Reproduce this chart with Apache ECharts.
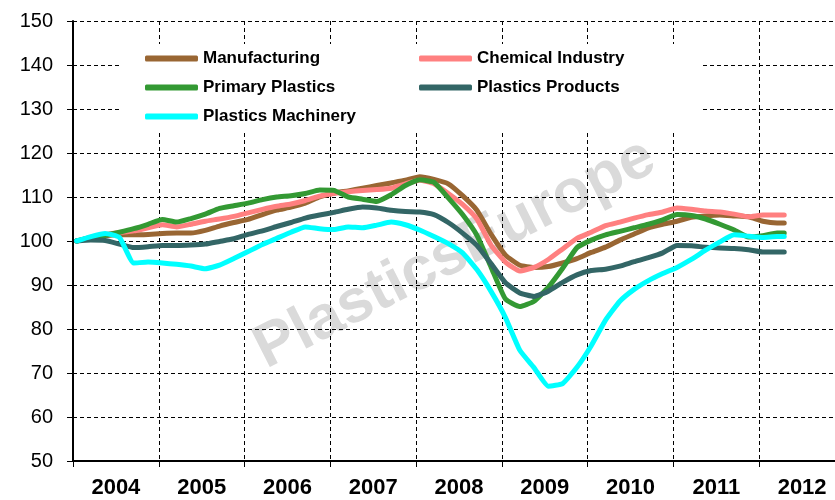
<!DOCTYPE html>
<html>
<head>
<meta charset="utf-8">
<script src="https://cdn.jsdelivr.net/npm/echarts@6/dist/echarts.min.js"></script>
<style>
  html, body { margin: 0; padding: 0; background: #fff; }
  #chart { width: 835px; height: 500px; }
</style>
</head>
<body>
<div id="chart"></div>
<script>
// month index from Jan 2004 (0 = Jan 2004)
const months = [0, 2, 4, 6, 8, 10, 12, 14, 16, 18, 20, 22, 24, 26, 28, 30, 32, 34, 36, 38,
  40, 42, 44, 46, 48, 50, 52, 54, 56, 58, 60, 62, 64, 66, 68, 70, 72, 74, 76, 78,
  80, 82, 84, 86, 88, 90, 92, 94, 96, 98, 99]

const years = ['2004', '2005', '2006', '2007', '2008', '2009', '2010', '2011', '2012']

const manufacturing = [100, 100.7, 101.2, 101.4, 101.4, 101.5, 101.7, 101.8, 101.8, 102.4,
  103.4, 104.2, 104.9, 106, 107, 107.7, 108.6, 110, 110.9, 111.4,
  112, 112.6, 113.2, 113.8, 114.6, 114, 113, 110.3, 107, 101.5,
  96.8, 94.5, 94, 94.2, 95, 96, 97.4, 98.6, 100.2, 101.6,
  103, 103.8, 104.5, 105.4, 105.7, 105.9, 105.7, 105.5, 104.5, 104.1, 104.1]

const chemical = [100, 100.8, 101.5, 101.9, 102.3, 103, 103.7, 103.2, 103.8, 104.5,
  105, 105.6, 106.4, 107.2, 107.9, 108.4, 109.2, 110.2, 110.8, 111.2,
  111.5, 111.7, 112, 113, 113.8, 113, 110.8, 108.3, 105, 99,
  95.2, 93.2, 94, 95.8, 98.2, 100.6, 102, 103.5, 104.3, 105.2,
  106, 106.6, 107.5, 107.2, 106.8, 106.6, 106.1, 105.5, 105.9, 105.9, 105.9]

const primary = [100, 100.8, 101.3, 102, 102.8, 103.8, 104.9, 104.3, 105.1, 106.1,
  107.4, 108, 108.6, 109.4, 110, 110.3, 110.8, 111.6, 111.5, 110,
  109.5, 109, 110.5, 112.6, 113.9, 113.3, 109.8, 106, 101.3, 94,
  86.8, 85.1, 86.3, 89.5, 93.8, 98.5, 100.2, 101.4, 102.2, 103,
  103.8, 104.8, 106, 105.8, 105, 103.8, 102.5, 100.9, 101.2, 101.8, 101.8]

const products = [100, 100.2, 100.1, 99.3, 98.5, 98.7, 99, 99, 99.1, 99.3,
  99.9, 100.5, 101.5, 102.3, 103.3, 104.2, 105.2, 105.9, 106.5, 107.2,
  107.7, 107.5, 107, 106.7, 106.6, 106, 104.2, 101.8, 99, 94.8,
  90.5, 88.2, 87.4, 88.6, 90.6, 92.3, 93.3, 93.6, 94.3, 95.3,
  96.2, 97.3, 99, 98.9, 98.6, 98.4, 98.3, 98, 97.5, 97.5, 97.5]

const machinery = [100, 101, 101.7, 100.8, 95, 95.2, 95, 94.7, 94.3, 93.7,
  94.5, 96, 97.6, 99.2, 100.6, 102, 103.2, 102.8, 102.6, 103.2,
  103, 103.6, 104.3, 103.7, 102.5, 101, 99.4, 97.3, 93.5, 88.5,
  82.6, 75.2, 71.2, 67, 67.6, 71.3, 76.2, 82, 86.3, 89,
  91, 92.6, 94, 95.8, 97.9, 99.8, 101.4, 101.1, 100.8, 101, 101]

const seriesNames = ['Manufacturing', 'Chemical Industry', 'Primary Plastics', 'Plastics Products', 'Plastics Machinery']
const seriesValues = [manufacturing, chemical, primary, products, machinery]
const seriesColors = ['#996633', '#ff8080', '#339933', '#336666', '#00ffff']

const chart = echarts.init(document.getElementById('chart'))

const fontFamily = 'Arial, "Liberation Sans", sans-serif'
const dashed = { color: '#000', width: 1, type: [4, 3] }

const option = {
  backgroundColor: '#fff',
  animation: false,
  grid: {
    left: 73,
    width: 772,
    top: 21,
    bottom: 39,
    containLabel: false,
    outerBoundsMode: 'none'
  },
  graphic: [{
    type: 'text',
    x: 455,
    y: 254,
    rotation: 0.47,
    z: -10,
    silent: true,
    style: {
      text: 'PlasticsEurope',
      font: 'bold 61px Arial, "Liberation Sans", sans-serif',
      fill: '#dadada',
      align: 'center',
      verticalAlign: 'middle'
    }
  }],
  legend: {
    left: 120,
    top: 44,
    width: 560,
    padding: [0, 10, 2, 25],
    backgroundColor: '#fff',
    itemGap: 0,
    itemWidth: 53,
    itemHeight: 6,
    itemTextGap: 4,
    icon: 'roundRect',
    textStyle: {
      fontFamily: fontFamily,
      fontSize: 17,
      fontWeight: 'bold',
      color: '#000',
      width: 216,
      lineHeight: 29
    },
    data: seriesNames
  },
  xAxis: [{
    type: 'value',
    min: 0,
    max: 108,
    interval: 12,
    position: 'bottom',
    axisLine: { show: true, lineStyle: { color: '#000', width: 2 } },
    axisTick: { show: true, length: 6, lineStyle: { color: '#000', width: 1 } },
    axisLabel: { show: false },
    splitLine: { show: true, lineStyle: dashed }
  }, {
    type: 'category',
    data: years,
    position: 'bottom',
    boundaryGap: true,
    axisLine: { show: false },
    axisTick: { show: false },
    splitLine: { show: false },
    axisLabel: {
      interval: 0,
      margin: 16,
      fontFamily: fontFamily,
      fontSize: 22,
      fontWeight: 'bold',
      color: '#000'
    }
  }],
  yAxis: {
    type: 'value',
    min: 50,
    max: 150,
    interval: 10,
    axisLine: { show: true, lineStyle: { color: '#000', width: 2 } },
    axisTick: { show: true, length: 6, lineStyle: { color: '#000', width: 1 } },
    axisLabel: {
      margin: 20,
      fontFamily: fontFamily,
      fontSize: 20,
      color: '#000'
    },
    splitLine: { show: true, lineStyle: dashed }
  },
  series: seriesNames.map((name, i) => ({
    name: name,
    type: 'line',
    xAxisIndex: 0,
    data: months.map((m, j) => [m + 0.5, seriesValues[i][j]]),
    showSymbol: false,
    symbol: 'none',
    smooth: 0.15,
    z: 3 + i,
    lineStyle: { color: seriesColors[i], width: 5, cap: 'round', join: 'round' },
    itemStyle: { color: seriesColors[i] }
  }))
}

chart.setOption(option)
</script>
</body>
</html>
